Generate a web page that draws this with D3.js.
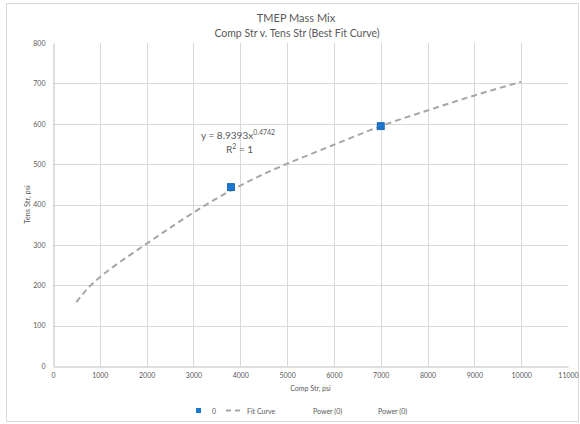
<!DOCTYPE html>
<html>
<head>
<meta charset="utf-8">
<script src="https://cdn.jsdelivr.net/npm/d3@7.9.0/dist/d3.min.js"></script>
<style>
  body { margin: 0; background: #fff; }
  svg { display: block; font-family: Lato, "Open Sans", sans-serif; }
</style>
</head>
<body>
<svg width="580" height="424"></svg>
<script>
// measured points (Comp Str vs Tens Str)
const compStr = [3800, 7000];
const tensStr = [443, 594];

// fit curve
const curveComp = [500, 1000, 2000, 3000, 4000, 5000, 6000, 7000, 8000, 9000, 10000];
const curveTens = [158, 220, 303, 380, 447, 501, 548, 594, 633, 670, 704];

const xTicks = [0, 1000, 2000, 3000, 4000, 5000, 6000, 7000, 8000, 9000, 10000, 11000];
const yTicks = [0, 100, 200, 300, 400, 500, 600, 700, 800];

const textColor = '#595959';
const gridColor = '#d9d9d9';

const svg = d3.select('svg');

// chart frame
svg.append('rect')
  .attr('x', 6.5).attr('y', 3.5)
  .attr('width', 572).attr('height', 418)
  .attr('fill', '#fff').attr('stroke', '#d9d9d9');

const x = d3.scaleLinear().domain([0, 11000]).range([53, 568]);
const y = d3.scaleLinear().domain([0, 800]).range([366, 43]);

// gridlines (none at the top or far right edge)
svg.append('g')
  .selectAll('line')
  .data(xTicks.filter(d => d > 0 && d < 11000))
  .join('line')
  .attr('x1', d => Math.round(x(d)) + 0.5).attr('x2', d => Math.round(x(d)) + 0.5)
  .attr('y1', y(800)).attr('y2', y(0))
  .attr('stroke', gridColor);

svg.append('g')
  .selectAll('line')
  .data(yTicks.filter(d => d > 0 && d < 800))
  .join('line')
  .attr('x1', x(0)).attr('x2', x(11000))
  .attr('y1', d => Math.round(y(d)) + 0.5).attr('y2', d => Math.round(y(d)) + 0.5)
  .attr('stroke', gridColor);

// axes
const xAxis = svg.append('g')
  .attr('transform', `translate(0,${Math.round(y(0)) + 0.5})`)
  .call(d3.axisBottom(x).tickValues(xTicks).tickSize(0).tickPadding(7).tickFormat(d3.format('d')));
const yAxis = svg.append('g')
  .attr('transform', `translate(${Math.round(x(0)) + 0.5},0)`)
  .call(d3.axisLeft(y).tickValues(yTicks).tickSize(0).tickPadding(8).tickFormat(d3.format('d')));

[xAxis, yAxis].forEach(g => {
  g.select('.domain').attr('stroke', '#bfbfbf');
  g.selectAll('text')
    .attr('fill', textColor)
    .style('font-size', '7px')
    .style('font-family', 'Lato, sans-serif');
});

// titles
svg.append('text')
  .attr('x', 296).attr('y', 22)
  .attr('text-anchor', 'middle')
  .attr('fill', textColor)
  .style('font-size', '11px')
  .text('TMEP Mass Mix');
svg.append('text')
  .attr('x', 297).attr('y', 37)
  .attr('text-anchor', 'middle')
  .attr('fill', textColor)
  .style('font-size', '10.5px')
  .text('Comp Str v. Tens Str (Best Fit Curve)');

svg.append('text')
  .attr('x', (x(0) + x(11000)) / 2).attr('y', 391)
  .attr('text-anchor', 'middle')
  .attr('fill', textColor)
  .style('font-size', '7px')
  .text('Comp Str, psi');

svg.append('text')
  .attr('transform', `translate(30,${(y(0) + y(800)) / 2}) rotate(-90)`)
  .attr('text-anchor', 'middle')
  .attr('fill', textColor)
  .style('font-size', '7.5px')
  .text('Tens Str, psi');

// fit curve
const line = d3.line()
  .x(d => x(d[0]))
  .y(d => y(d[1]))
  .curve(d3.curveNatural);

svg.append('path')
  .datum(d3.zip(curveComp, curveTens))
  .attr('d', line)
  .attr('fill', 'none')
  .attr('stroke', '#a6a6a6')
  .attr('stroke-width', 2)
  .attr('stroke-dasharray', '6,4');

// data points
svg.append('g')
  .selectAll('rect')
  .data(d3.zip(compStr, tensStr))
  .join('rect')
  .attr('x', d => x(d[0]) - 3.5)
  .attr('y', d => y(d[1]) - 3.5)
  .attr('width', 7).attr('height', 7)
  .attr('fill', '#1a78d0')
  .attr('stroke', '#0b5ca8')
  .attr('stroke-width', 0.8);

// trendline equation
const eq = svg.append('text')
  .attr('x', 201).attr('y', 139)
  .attr('fill', textColor)
  .style('font-size', '10px');
eq.append('tspan').text('y = 8.9393x');
eq.append('tspan').attr('dy', -4).style('font-size', '7px').text('0.4742');

const r2 = svg.append('text')
  .attr('x', 226).attr('y', 153)
  .attr('fill', textColor)
  .style('font-size', '10px');
r2.append('tspan').text('R');
r2.append('tspan').attr('dy', -4).style('font-size', '7px').text('2');
r2.append('tspan').attr('dy', 4).text(' = 1');

// legend
const legend = svg.append('g').attr('transform', 'translate(0,411)');
legend.append('rect')
  .attr('x', 196).attr('y', -3).attr('width', 5).attr('height', 5)
  .attr('fill', '#1a78d0');
legend.append('text')
  .attr('x', 212).attr('y', 2.5)
  .attr('fill', textColor).style('font-size', '7px').text('0');
legend.append('line')
  .attr('x1', 226).attr('x2', 241).attr('y1', -0.5).attr('y2', -0.5)
  .attr('stroke', '#a6a6a6').attr('stroke-width', 2)
  .attr('stroke-dasharray', '5,4');
legend.append('text')
  .attr('x', 247).attr('y', 2.5)
  .attr('fill', textColor).style('font-size', '7px').text('Fit Curve');
legend.append('text')
  .attr('x', 313).attr('y', 2.5)
  .attr('fill', textColor).style('font-size', '7px').text('Power (0)');
legend.append('text')
  .attr('x', 378).attr('y', 2.5)
  .attr('fill', textColor).style('font-size', '7px').text('Power (0)');
</script>
</body>
</html>
